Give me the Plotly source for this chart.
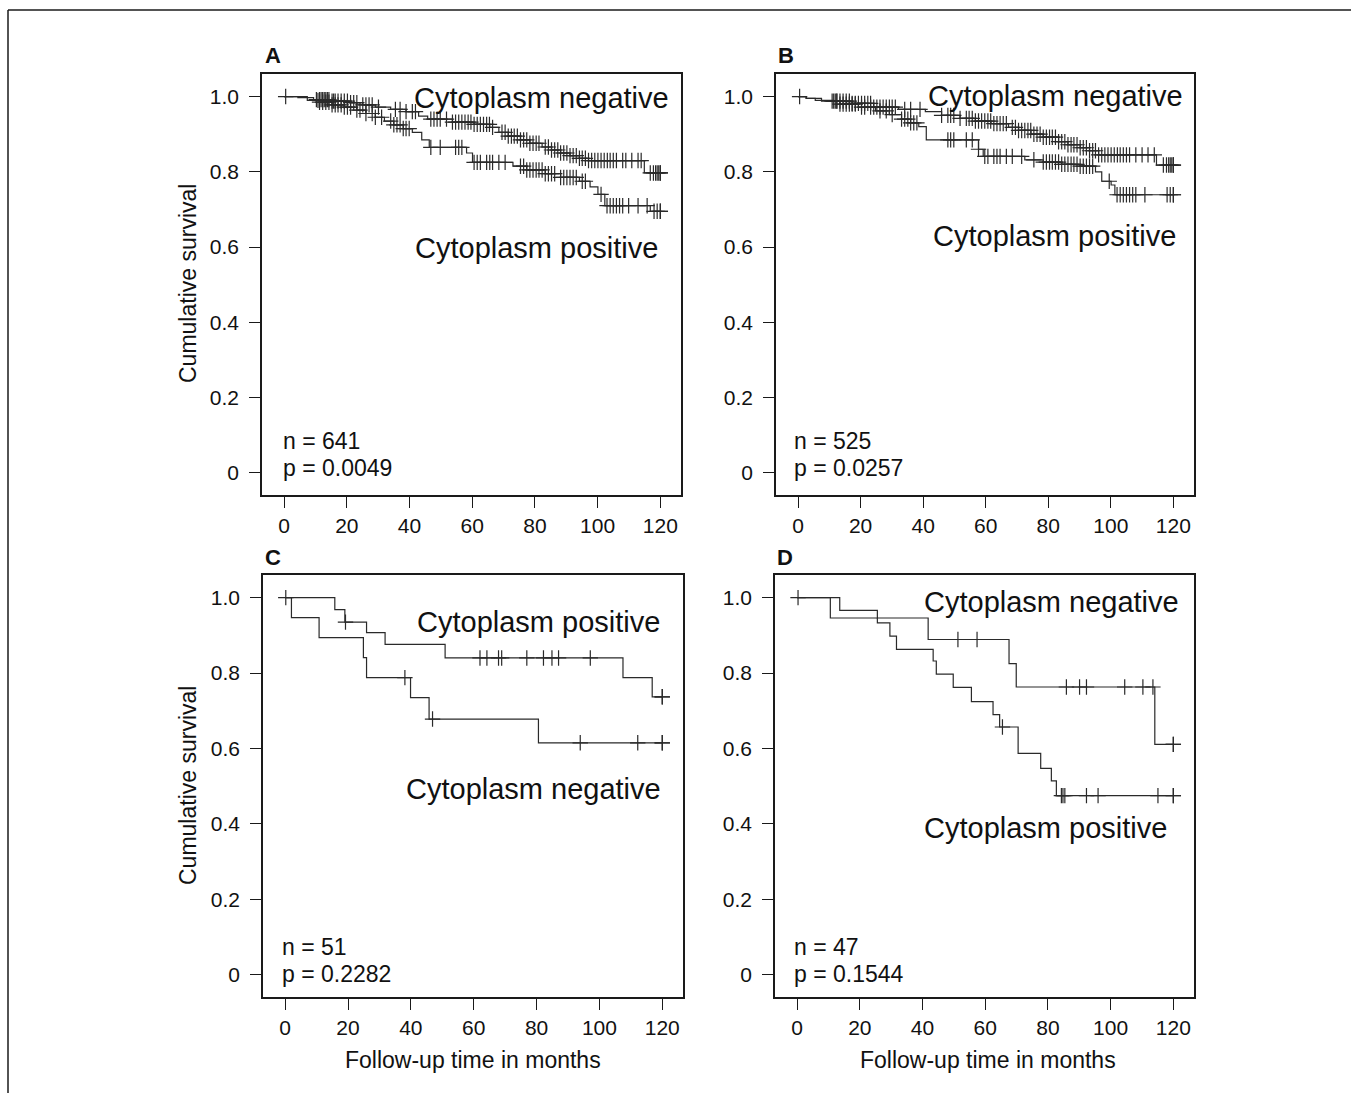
import bisect
import plotly.graph_objects as go

W, H = 1351, 1093

# ---------------- data (months, cumulative survival) ----------------
# Panel A
tA_neg = [0, 4.4, 9.4, 15.3, 21.2, 25.1, 29.1, 34.0, 38.9, 42.9, 45.8, 53.7, 60.6, 65.6, 68.5, 71.5, 75.4, 78.4, 82.3, 85.3, 88.2, 91.2, 94.2, 97.1, 114.9]
sA_neg = [1.0, 0.997, 0.992, 0.988, 0.984, 0.978, 0.972, 0.966, 0.96, 0.948, 0.94, 0.932, 0.926, 0.918, 0.905, 0.895, 0.885, 0.876, 0.866, 0.858, 0.85, 0.843, 0.836, 0.83, 0.797]
cA_neg = [0.5, 10.3, 11.3, 11.8, 12.3, 12.8, 13.3, 13.8, 14.3, 15.3, 15.8, 16.3, 17.2, 18.2, 19.2, 20.2, 21.2, 22.2, 23.2, 25.1, 26.1, 27.1, 28.1, 30.1, 35.5, 37, 38.9, 40.9, 41.9, 46.8, 47.8, 48.8, 49.8, 51.8, 53.7, 54.7, 55.7, 56.7, 57.7, 58.7, 59.6, 60.6, 61.6, 62.6, 63.6, 64.6, 65.5, 66.5, 69.5, 70.5, 71.5, 72.5, 73.4, 74.4, 75.4, 76.4, 77.4, 78.4, 79.4, 80.4, 81.3, 83.3, 84.3, 85.3, 86.3, 87.3, 88.2, 89.2, 90.2, 91.2, 92.2, 93.2, 94.2, 95.1, 96.1, 97.1, 98.1, 99.1, 100.1, 101.1, 102.1, 103.1, 104, 105, 106, 108, 109, 110.9, 112.9, 113.9, 116.8, 117.8, 118.5, 119, 119.5, 120, 120]
tA_pos = [0, 7.4, 11.3, 15.3, 19.2, 23.2, 26.1, 29.1, 32.0, 35.0, 38.0, 40.9, 43.9, 46.3, 58.2, 60.1, 73.0, 77.4, 83.3, 88.2, 94.2, 97.6, 100.1, 102.3, 116.8]
sA_pos = [1.0, 0.99, 0.985, 0.978, 0.972, 0.964, 0.955, 0.945, 0.935, 0.925, 0.915, 0.905, 0.885, 0.865, 0.85, 0.825, 0.815, 0.805, 0.795, 0.785, 0.775, 0.76, 0.74, 0.71, 0.695]
cA_pos = [10.8, 11.3, 12.3, 13.3, 14.3, 15.3, 16.3, 17.2, 18.2, 19.2, 20.2, 21.2, 23.2, 24.2, 26.1, 28.1, 29.1, 31.1, 34, 35, 36, 37, 38, 38.9, 39.9, 46.8, 49.8, 54.7, 55.7, 56.7, 60.6, 61.6, 62.6, 64.6, 65.6, 66.5, 68.5, 70.5, 75.4, 76.4, 77.4, 78.4, 79.4, 80.4, 81.3, 82.3, 83.3, 84.3, 85.3, 86.3, 88.2, 89.2, 90.2, 91.2, 92.2, 93.2, 95.1, 96.1, 101.1, 103, 104, 105, 106, 107, 108, 109.9, 112.9, 115.8, 118, 119, 120, 120]

# Panel B
tB_neg = [0, 2.6, 5.5, 11.4, 17.3, 24.2, 32.1, 40.7, 45.9, 51.8, 56.7, 61.7, 67.3, 70.5, 74.5, 78.4, 83.3, 86.3, 90.2, 93.2, 96.1, 114.6]
sB_neg = [1.0, 0.995, 0.99, 0.988, 0.982, 0.972, 0.966, 0.96, 0.95, 0.942, 0.935, 0.928, 0.918, 0.91, 0.9, 0.892, 0.88, 0.872, 0.864, 0.856, 0.845, 0.818]
cB_neg = [0.5, 11.4, 12.4, 13.4, 14.4, 15.4, 16.4, 17.3, 18.3, 19.3, 20.3, 21.3, 22.3, 23.2, 25.2, 26.2, 27.2, 28.2, 29.2, 30.1, 31.1, 34.1, 36, 39, 45.9, 47.9, 48.8, 49.8, 51.8, 53.8, 54.7, 55.7, 56.7, 57.7, 58.7, 59.7, 60.7, 61.6, 62.6, 63.6, 64.6, 65.6, 66.6, 68.5, 69.5, 70.5, 71.5, 72.5, 73.5, 74.4, 75.4, 76.4, 77.4, 78.4, 79.4, 80.4, 81.3, 82.3, 83.3, 84.3, 85.3, 86.3, 87.3, 88.2, 89.2, 90.2, 91.2, 92.2, 93.2, 94.2, 95.1, 96.1, 97.1, 98.1, 99.1, 100.1, 101.1, 102.1, 103, 104, 105, 106, 108, 110, 111.9, 113.9, 116.8, 117.8, 118.5, 119, 119.5, 120, 120]
tB_pos = [0, 2.6, 7.5, 13.4, 19.3, 24.8, 29.2, 33.1, 36.0, 38.6, 41.0, 57.7, 59.2, 72.5, 78.4, 84.3, 90.2, 95.1, 97.1, 100.1, 101.3]
sB_pos = [1.0, 0.995, 0.988, 0.98, 0.972, 0.962, 0.952, 0.94, 0.93, 0.92, 0.885, 0.86, 0.841, 0.832, 0.826, 0.82, 0.815, 0.8, 0.775, 0.765, 0.739]
cB_pos = [10.9, 11.9, 12.4, 13.4, 14.4, 15.4, 16.4, 17.3, 18.3, 20.3, 21.3, 23.2, 24.2, 26.2, 28.2, 30.1, 33.1, 34.1, 35.1, 36, 37, 38, 47.9, 48.8, 49.8, 53.8, 55.7, 57.7, 59.7, 60.7, 62.6, 63.6, 64.6, 66.6, 68.5, 71.5, 75.4, 78.4, 79.4, 80.4, 81.3, 82.3, 83.3, 84.3, 85.3, 86.3, 87.3, 88.2, 89.2, 90.2, 91.2, 92.2, 93.2, 94.2, 99.5, 102, 103, 104, 105, 106, 107, 108, 110.9, 118, 119, 120, 120]

# Panel C
tC_pos = [0, 15.8, 19.0, 25.9, 31.8, 50.9, 107.5, 116.8]
sC_pos = [1.0, 0.968, 0.935, 0.907, 0.876, 0.840, 0.788, 0.737]
cC_pos = [0.2, 19.2, 62.0, 64.2, 67.9, 68.9, 76.9, 82.2, 84.9, 87.0, 97.1, 120, 120]
tC_neg = [0, 2.0, 10.8, 24.9, 25.9, 39.9, 45.8, 80.6]
sC_neg = [1.0, 0.947, 0.894, 0.841, 0.788, 0.735, 0.678, 0.615]
cC_neg = [38.1, 46.9, 93.9, 112.2, 120, 120]

# Panel D
tD_neg = [0, 13.6, 25.6, 41.8, 67.6, 69.9, 114.1]
sD_neg = [1.0, 0.966, 0.946, 0.889, 0.825, 0.763, 0.611]
cD_neg = [0.3, 51.3, 57.4, 85.9, 90.1, 92.3, 104.5, 110.3, 113.5, 120, 120]
tD_pos = [0, 10.6, 25.6, 29.6, 31.7, 43.4, 44.4, 49.8, 55.6, 62.5, 64.6, 70.5, 77.7, 81.1, 82.7]
sD_pos = [1.0, 0.946, 0.933, 0.898, 0.863, 0.832, 0.797, 0.762, 0.724, 0.690, 0.657, 0.587, 0.547, 0.514, 0.475]
cD_pos = [65.5, 84.3, 84.8, 85.4, 92.3, 96.0, 115.1, 120, 120]

panel_letters = ["A", "B", "C", "D"]
n_labels = ["n = 641", "n = 525", "n = 51", "n = 47"]
p_labels = ["p = 0.0049", "p = 0.0257", "p = 0.2282", "p = 0.1544"]
x_ticks = [0, 20, 40, 60, 80, 100, 120]
y_ticks = [0, 0.2, 0.4, 0.6, 0.8, 1.0]
y_ticktext = ["0", "0.2", "0.4", "0.6", "0.8", "1.0"]
end_time = 120

# ---------------- layout geometry (pixels) ----------------
FONT = "Liberation Sans, Arial, Helvetica, sans-serif"
boxes = {  # left, top, right, bottom
    "A": (262, 74, 681, 495),
    "B": (776, 74, 1194, 495),
    "C": (263, 575, 683, 997),
    "D": (775, 575, 1194, 997),
}
XR = [-7.05, 126.6]
YR = [-0.059, 1.060]


def fx(x):
    return x / W


def fy(y):
    return 1 - y / H


def km_at(times, surv, t):
    i = bisect.bisect_right(times, t) - 1
    return surv[max(i, 0)]


fig = go.Figure()
LC = "#2a2a2a"
curves = {
    "A": [(tA_neg, sA_neg, cA_neg), (tA_pos, sA_pos, cA_pos)],
    "B": [(tB_neg, sB_neg, cB_neg), (tB_pos, sB_pos, cB_pos)],
    "C": [(tC_pos, sC_pos, cC_pos), (tC_neg, sC_neg, cC_neg)],
    "D": [(tD_neg, sD_neg, cD_neg), (tD_pos, sD_pos, cD_pos)],
}

for k, letter in enumerate(panel_letters):
    sfx = "" if k == 0 else str(k + 1)
    xa, ya = "x" + sfx, "y" + sfx
    for times, surv, cens in curves[letter]:
        fig.add_trace(go.Scatter(
            x=list(times) + [end_time], y=list(surv) + [surv[-1]],
            mode="lines", line=dict(color=LC, width=1.2, shape="hv"),
            xaxis=xa, yaxis=ya, showlegend=False, hoverinfo="skip"))
        fig.add_trace(go.Scatter(
            x=cens, y=[km_at(times, surv, c) for c in cens],
            mode="markers",
            marker=dict(symbol="cross-thin", size=11, color=LC,
                        line=dict(width=1.2, color=LC)),
            xaxis=xa, yaxis=ya, showlegend=False, hoverinfo="skip"))

layout = dict(
    width=W, height=H, margin=dict(l=0, r=0, t=0, b=0),
    paper_bgcolor="white", plot_bgcolor="white", showlegend=False,
    font=dict(family=FONT, color="#111"),
)
axis_common = dict(showline=True, mirror=True, linecolor="#1a1a1a", linewidth=1.5,
                   ticks="outside", ticklen=11, tickwidth=1.2, tickcolor="#1a1a1a",
                   showgrid=False, zeroline=False,
                   tickfont=dict(family=FONT, size=21, color="#111"))
for k, letter in enumerate(panel_letters):
    sfx = "" if k == 0 else str(k + 1)
    l, t, r, b = boxes[letter]
    layout["xaxis" + sfx] = dict(axis_common, domain=[fx(l), fx(r)], range=XR,
                                 tickvals=x_ticks, anchor="y" + sfx)
    layout["yaxis" + sfx] = dict(axis_common, domain=[fy(b), fy(t)], range=YR,
                                 tickvals=y_ticks, ticktext=y_ticktext, anchor="x" + sfx,
                                 ticklabelstandoff=6)
fig.update_layout(**layout)

ann = []


def txt(x, y, s, size, xanchor="left", bold=False, angle=0):
    ann.append(dict(x=fx(x), y=fy(y), xref="paper", yref="paper", text=("<b>%s</b>" % s if bold else s),
                    showarrow=False, xanchor=xanchor, yanchor="middle", textangle=angle,
                    font=dict(family=FONT, size=size, color="#111")))


# panel letters
txt(263, 55, "A", 22, bold=True)
txt(776, 55, "B", 22, bold=True)
txt(263, 557, "C", 22, bold=True)
txt(775, 557, "D", 22, bold=True)
# group labels
txt(671, 98, "Cytoplasm negative", 29, "right")
txt(660, 248, "Cytoplasm positive", 29, "right")
txt(1185, 96, "Cytoplasm negative", 29, "right")
txt(1178, 236, "Cytoplasm positive", 29, "right")
txt(662, 622, "Cytoplasm positive", 29, "right")
txt(663, 789, "Cytoplasm negative", 29, "right")
txt(1181, 602, "Cytoplasm negative", 29, "right")
txt(1169, 828, "Cytoplasm positive", 29, "right")
# n and p
pos_np = [(281, 441, 468), (792, 441, 468), (280, 947, 974), (792, 947, 974)]
for (x0, yn, yp), ns, ps in zip(pos_np, n_labels, p_labels):
    txt(x0, yn, ns, 23)
    txt(x0, yp, ps, 23)
# axis titles
txt(188, 284, "Cumulative survival", 23, "center", angle=-90)
txt(188, 786, "Cumulative survival", 23, "center", angle=-90)
txt(473, 1060, "Follow-up time in months", 23, "center")
txt(988, 1060, "Follow-up time in months", 23, "center")

fig.update_layout(annotations=ann, shapes=[
    dict(type="line", xref="paper", yref="paper", x0=fx(8), x1=1, y0=fy(10), y1=fy(10),
         line=dict(color="#1a1a1a", width=1.5)),
    dict(type="line", xref="paper", yref="paper", x0=fx(8), x1=fx(8), y0=fy(10), y1=0,
         line=dict(color="#1a1a1a", width=1.5)),
])

fig.write_html("out.html", config={"displayModeBar": False},
               post_script="document.body.style.margin='0';document.body.style.overflow='hidden';")
